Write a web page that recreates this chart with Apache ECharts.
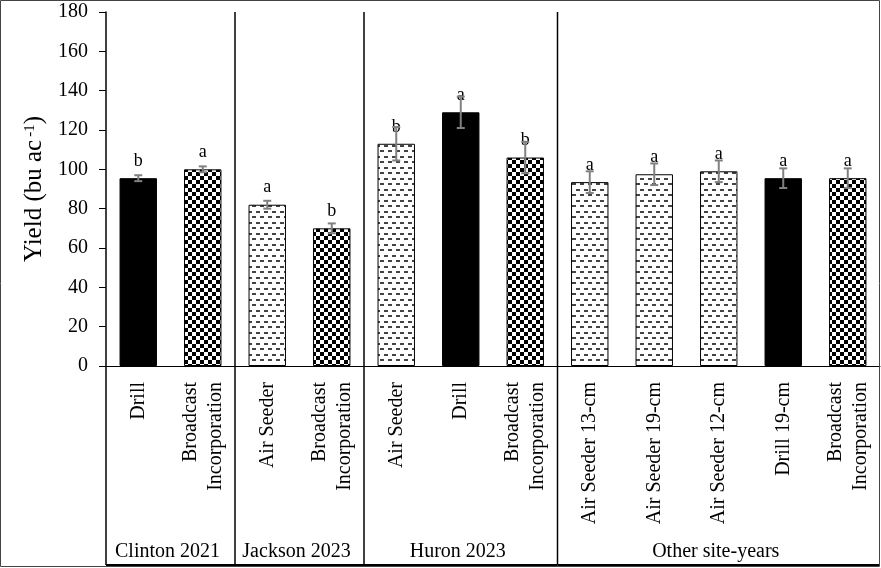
<!DOCTYPE html>
<html>
<head>
<meta charset="utf-8">
<script src="https://cdn.jsdelivr.net/npm/echarts@6/dist/echarts.min.js"></script>
<style>
html,body{margin:0;padding:0;background:#fff;}
#c{width:881px;height:568px;}
</style>
</head>
<body>
<div id="c"></div>
<script>
const categories = ['Drill','Broadcast\nIncorporation','Air Seeder','Broadcast\nIncorporation','Air Seeder','Drill','Broadcast\nIncorporation','Air Seeder 13-cm','Air Seeder 19-cm','Air Seeder 12-cm','Drill 19-cm','Broadcast\nIncorporation'];
const methods = ['drill','broadcast','air','broadcast','air','drill','broadcast','air','air','air','drill','broadcast'];
const yields = [95.5,100,82,70,113,129,106,93.5,97.5,99,95.5,95.5];
const errors = [1.5,1.5,2,2.5,8.5,8,8,5.5,5.5,5.5,5,5];
const letters = ['b','a','a','b','b','a','b','a','a','a','a','a'];
const groups = ['Clinton 2021','Jackson 2023','Huron 2023','Other site-years'];
const groupStart = [0,2,4,7];
const groupEnd = [1,3,6,11];
const yTicks = {min:0,max:180,interval:20};

const FONT = 'Liberation Serif';

function checker(){
  const c=document.createElement('canvas');c.width=8;c.height=8;
  const g=c.getContext('2d');g.fillStyle='#fff';g.fillRect(0,0,8,8);
  g.fillStyle='#000';g.fillRect(0,0,4,4);g.fillRect(4,4,4,4);
  return c;
}
function dashes(){
  const c=document.createElement('canvas');c.width=8;c.height=11;
  const g=c.getContext('2d');g.fillStyle='#fff';g.fillRect(0,0,8,11);
  g.fillStyle='#444';g.fillRect(0,2,4,2);g.fillRect(4,7,4,2);
  return c;
}
const styles = {
  drill:{color:'#000',borderColor:'#000',borderWidth:1},
  broadcast:{color:{image:checker(),repeat:'repeat'},borderColor:'#000',borderWidth:1},
  air:{color:{image:dashes(),repeat:'repeat'},borderColor:'#000',borderWidth:1}
};

const chart = echarts.init(document.getElementById('c'));
chart.setOption({
  animation:false,
  backgroundColor:'#fff',
  grid:{left:106,right:1,top:12,bottom:202,containLabel:false},
  xAxis:{
    type:'category',data:categories,
    axisLine:{lineStyle:{color:'#000',width:1}},
    axisTick:{show:false},
    axisLabel:{interval:0,rotate:90,margin:16,fontFamily:FONT,fontSize:20,color:'#000',lineHeight:25}
  },
  yAxis:{
    type:'value',min:yTicks.min,max:yTicks.max,interval:yTicks.interval,
    axisLine:{show:true,lineStyle:{color:'#000',width:1.5}},
    axisTick:{show:true,inside:false,length:7,lineStyle:{color:'#000'}},
    splitLine:{show:false},
    axisLabel:{margin:18,fontFamily:FONT,fontSize:20,color:'#000'},
    name:'{n|Yield (bu ac}{s|-1}{n|)}',
    nameLocation:'middle',nameGap:54,nameRotate:90,
    nameTextStyle:{rich:{n:{fontFamily:FONT,fontSize:25,color:'#000'},s:{fontFamily:FONT,fontSize:15,color:'#000',verticalAlign:'top',padding:[0,0,10,3]}}}
  },
  series:[
    {
      type:'bar',barWidth:'58%',
      data:yields.map((v,i)=>({value:v,itemStyle:styles[methods[i]]})),
      label:{show:true,position:'top',distance:8,fontFamily:FONT,fontSize:18,color:'#000',
        formatter:p=>letters[p.dataIndex]},
      z:2
    },
    {
      type:'custom',z:3,clip:false,
      data:yields.map((v,i)=>[i,v-errors[i],v+errors[i]]),
      encode:{x:0,y:[1,2]},
      renderItem:function(params,api){
        const i=api.value(0);
        const lo=api.coord([i,api.value(1)]);
        const hi=api.coord([i,api.value(2)]);
        const w=4;
        const st={stroke:'#808080',lineWidth:2};
        return {type:'group',children:[
          {type:'line',shape:{x1:lo[0],y1:lo[1],x2:hi[0],y2:hi[1]},style:st},
          {type:'line',shape:{x1:lo[0]-w,y1:lo[1],x2:lo[0]+w,y2:lo[1]},style:st},
          {type:'line',shape:{x1:hi[0]-w,y1:hi[1],x2:hi[0]+w,y2:hi[1]},style:st}
        ]};
      }
    },
    {
      type:'custom',z:4,clip:false,silent:true,
      data:groups.map((g,i)=>[groupStart[i],0]),
      encode:{x:0,y:1},
      renderItem:function(params,api){
        const k=params.dataIndex;
        const bw=api.size([1,0])[0];
        const x0=api.coord([groupStart[k],0])[0]-bw/2;
        const x1=api.coord([groupEnd[k],0])[0]+bw/2;
        const yTop=api.coord([groupStart[k],yTicks.max])[1];
        const yAx=api.coord([groupStart[k],0])[1];
        const yBot=565;
        const st={stroke:'#000',lineWidth:1.5};
        const ch=[];
        ch.push({type:'line',shape:{x1:x0,y1:(k===0?yAx:yTop),x2:x0,y2:yBot},style:st});
        ch.push({type:'line',shape:{x1:x0,y1:yBot,x2:x1,y2:yBot},style:{stroke:'#000',lineWidth:2}});
        ch.push({type:'text',x:(x0+x1)/2-3,y:552,style:{text:groups[k],fontFamily:FONT,fontSize:20,fill:'#000',align:'center',verticalAlign:'middle'}});
        return {type:'group',children:ch};
      }
    }
  ],
  graphic:[{type:'rect',shape:{x:0.5,y:0.5,width:879,height:566},style:{fill:'none',stroke:'#444',lineWidth:1},silent:true,z:100}]
});
</script>
</body>
</html>
